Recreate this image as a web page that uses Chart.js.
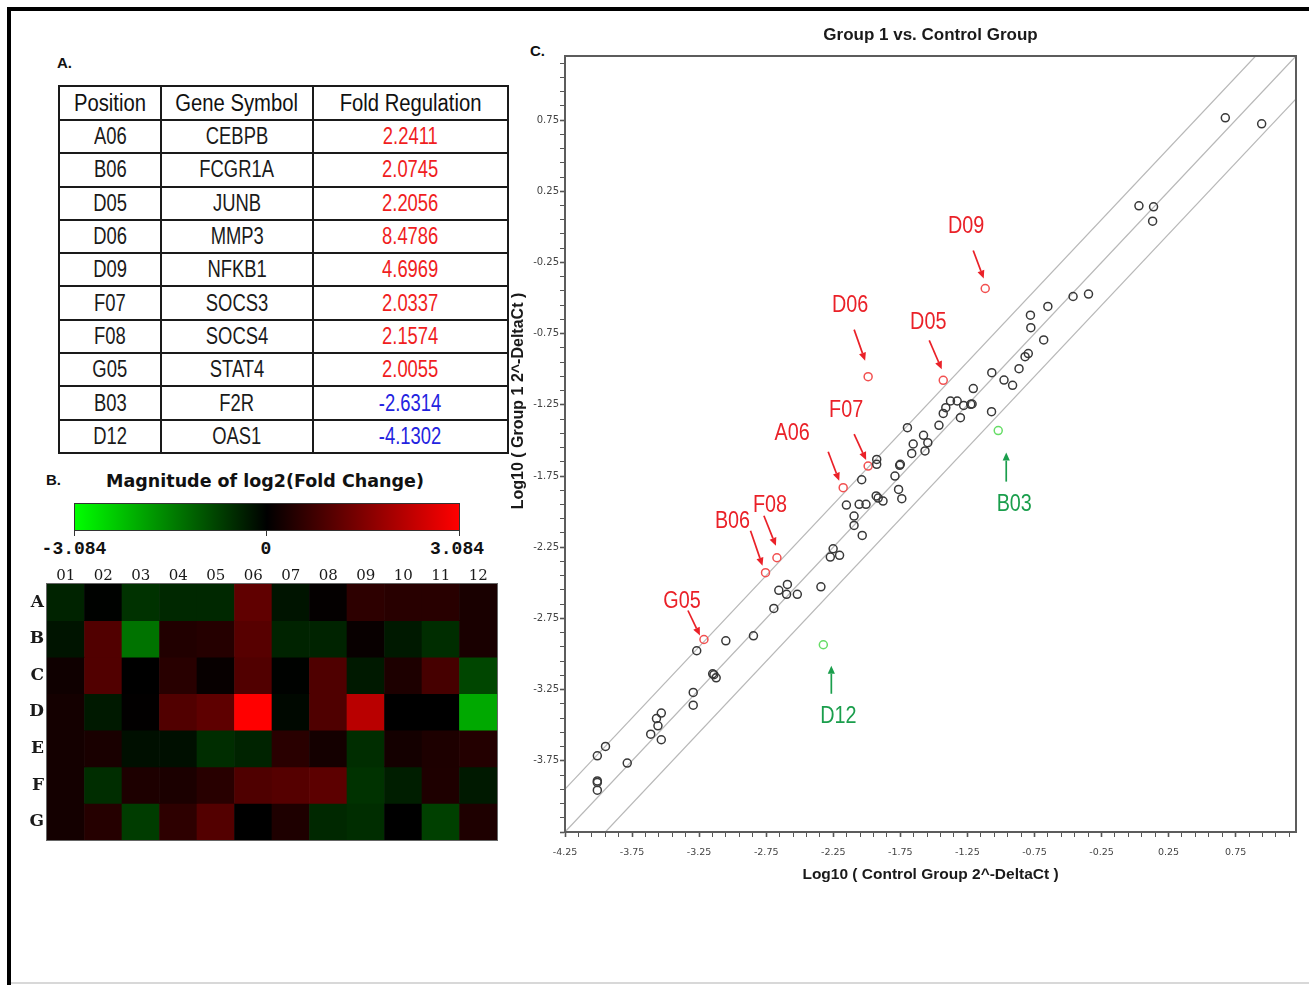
<!DOCTYPE html>
<html>
<head>
<meta charset="utf-8">
<title>Group 1 vs. Control Group</title>
<script src="https://cdn.jsdelivr.net/npm/chart.js@4.4.1/dist/chart.umd.min.js"></script>
<style>
  html, body { margin:0; padding:0; background:#fff; }
  body { width:1309px; height:985px; position:relative; overflow:hidden; font-family:'Liberation Sans', Arial, sans-serif; }
  .frame { position:absolute; background:#000; }
  .panel { position:absolute; font-weight:bold; font-size:15px; color:#111; line-height:1; font-family:'Liberation Sans', Arial, sans-serif; }
  #geneTable { position:absolute; left:58px; top:85px; width:449px; border-collapse:collapse; table-layout:fixed; }
  #geneTable td, #geneTable th { border:2px solid #1a1a1a; padding:0; text-align:center; overflow:hidden; white-space:nowrap; line-height:1; }
  #geneTable th { height:32px; font-weight:normal; font-size:23px; color:#111; }
  #geneTable td { height:31.3px; font-size:23px; color:#1a1a1a; }
  .sq { display:inline-block; transform:scaleX(0.8); transform-origin:center; }
  #geneTable th .sq { transform:scaleX(0.88); }
  .up { color:#f01e1e; }
  .down { color:#2323e0; }
  #heatTitle { position:absolute; left:15px; width:500px; top:470px; text-align:center; font:bold 17.5px 'DejaVu Sans', sans-serif; color:#111; line-height:22px; }
  #cbar { position:absolute; left:74px; top:503px; width:386px; height:28px; border:1px solid #333; box-sizing:border-box;
          background:linear-gradient(to right, #00ff00 0%, #000000 50%, #ff0000 100%); }
  .cbtick { position:absolute; top:531px; width:1px; height:5px; background:#333; }
  .cblab { position:absolute; top:539px; width:100px; text-align:center; font:bold 18px 'Liberation Mono', 'DejaVu Sans Mono', monospace; color:#111; line-height:20px; }
  canvas { position:absolute; }
</style>
</head>
<body>
<div class="frame" style="left:7px;top:7px;width:1302px;height:4px;"></div>
<div class="frame" style="left:7px;top:7px;width:4px;height:978px;"></div>
<div class="frame" style="left:11px;top:982px;width:1298px;height:2px;background:#d8d8d8;"></div>

<div class="panel" style="left:57px;top:55px;">A.</div>
<div class="panel" style="left:46px;top:472px;">B.</div>
<div class="panel" style="left:530px;top:43px;">C.</div>

<table id="geneTable"><colgroup><col style="width:102px"><col style="width:152px"><col style="width:195px"></colgroup><thead></thead><tbody></tbody></table>

<div id="heatTitle">Magnitude of log2(Fold Change)</div>
<div id="cbar"></div>
<div class="cbtick" style="left:74px"></div>
<div class="cbtick" style="left:266px"></div>
<div class="cbtick" style="left:459px"></div>
<div class="cblab" style="left:24px">-3.084</div>
<div class="cblab" style="left:216px">0</div>
<div class="cblab" style="left:407px">3.084</div>

<canvas id="heat" width="480" height="290" style="left:20px;top:555px;"></canvas>
<canvas id="scatter" width="809" height="880" style="left:500px;top:15px;"></canvas>

<script>
// ---------------- Panel A: table ----------------
const tableHeaders   = ['Position', 'Gene Symbol', 'Fold Regulation'];
const tablePositions = ['A06', 'B06', 'D05', 'D06', 'D09', 'F07', 'F08', 'G05', 'B03', 'D12'];
const tableGenes     = ['CEBPB', 'FCGR1A', 'JUNB', 'MMP3', 'NFKB1', 'SOCS3', 'SOCS4', 'STAT4', 'F2R', 'OAS1'];
const tableFold      = ['2.2411', '2.0745', '2.2056', '8.4786', '4.6969', '2.0337', '2.1574', '2.0055', '-2.6314', '-4.1302'];

// ---------------- Panel B: heat map (log2 fold change) ----------------
const heatCols      = ['01', '02', '03', '04', '05', '06', '07', '08', '09', '10', '11', '12'];
const heatRowLabels = ['A', 'B', 'C', 'D', 'E', 'F', 'G'];
const heatScaleMax  = 3.084;
const rowA = [-0.42, -0.02, -0.60, -0.48, -0.48, 1.164, -0.24, 0.05, 0.54, 0.48, 0.48, 0.30];
const rowB = [-0.24, 0.98, -1.396, 0.40, 0.45, 1.053, -0.42, -0.42, 0.10, -0.30, -0.55, 0.30];
const rowC = [0.18, 0.98, 0.00, 0.48, 0.08, 0.98, -0.02, 0.95, -0.30, 0.35, 0.85, -0.85];
const rowD = [0.24, -0.30, 0.02, 0.98, 1.141, 3.084, -0.10, 0.95, 2.232, 0.00, 0.00, -2.046];
const rowE = [0.24, 0.30, -0.18, -0.18, -0.55, -0.42, 0.50, 0.24, -0.55, 0.24, 0.35, 0.42];
const rowF = [0.24, -0.55, 0.35, 0.33, 0.48, 0.95, 1.024, 1.109, -0.60, -0.36, 0.36, -0.30];
const rowG = [0.24, 0.45, -0.72, 0.55, 1.004, 0.00, 0.36, -0.48, -0.55, 0.00, -0.78, 0.36];
const heatRows = [rowA, rowB, rowC, rowD, rowE, rowF, rowG];

// ---------------- Panel C: scatter ----------------
const scatterTitle = 'Group 1 vs. Control Group';
const xAxisTitle = 'Log10 ( Control Group 2^-DeltaCt )';
const yAxisTitle = 'Log10 ( Group 1 2^-DeltaCt )';
const xTickLabels = ['-4.25', '-3.75', '-3.25', '-2.75', '-2.25', '-1.75', '-1.25', '-0.75', '-0.25', '0.25', '0.75'];
const yTickLabels = ['-3.75', '-3.25', '-2.75', '-2.25', '-1.75', '-1.25', '-0.75', '-0.25', '0.25', '0.75'];
const axisMin = -4.25;
const axisMax = 1.2;
const foldBoundary = 2;

const controlLog = [0.673, 0.944, 0.029, 0.138, 0.131, -0.347, -0.462, -0.650, -0.780,
  -0.777, -0.681, -0.796, -0.820, -0.865, -0.977, -0.913, -1.068, -1.070, -1.206, -1.225, -1.215,
  -1.278, -1.326, -1.376, -1.411, -1.430, -1.302, -1.462, -1.697, -1.577, -1.545, -1.654, -1.665,
  -1.566, -1.926, -1.926, -1.755, -1.750, -1.790, -1.763, -1.739, -2.038, -1.930, -1.915, -1.879,
  -2.152, -2.057, -2.006, -2.095, -2.095, -2.034, -2.251, -2.272, -2.203, -2.342, -2.656, -2.592,
  -2.598, -2.518, -2.693, -2.845, -3.051, -3.268, -3.149, -3.140, -3.123, -3.294, -3.294, -3.532,
  -3.568, -3.557, -3.611, -3.532, -3.948, -4.009, -3.786, -4.009, -4.009, -4.009];
const group1Log = [0.766, 0.724, 0.148, 0.141, 0.040, -0.472, -0.489, -0.559, -0.620,
  -0.708, -0.794, -0.890, -0.912, -0.996, -1.076, -1.113, -1.024, -1.298, -1.136, -1.246, -1.244,
  -1.254, -1.223, -1.223, -1.270, -1.310, -1.340, -1.394, -1.410, -1.464, -1.516, -1.525, -1.591,
  -1.574, -1.633, -1.668, -1.675, -1.668, -1.750, -1.844, -1.909, -1.776, -1.890, -1.905, -1.926,
  -1.954, -1.949, -1.949, -2.031, -2.097, -2.167, -2.261, -2.319, -2.307, -2.528, -2.553, -2.511,
  -2.581, -2.581, -2.680, -2.872, -2.907, -2.977, -3.139, -3.145, -3.167, -3.270, -3.359, -3.415,
  -3.453, -3.504, -3.563, -3.602, -3.649, -3.715, -3.766, -3.891, -3.902, -3.956];

const upGenes    = ['A06', 'B06', 'D05', 'D06', 'D09', 'F07', 'F08', 'G05'];
const upControl  = [-2.176, -2.755, -1.430, -1.990, -1.117, -1.990, -2.670, -3.214];
const upGroup1   = [-1.832, -2.429, -1.078, -1.052, -0.433, -1.680, -2.324, -2.898];
const downGenes   = ['B03', 'D12'];
const downControl = [-1.020, -2.324];
const downGroup1  = [-1.431, -2.935];

// ---------- styling (positions of call-out texts/arrows, pixels relative to the point) ----------
const callout = {
  D09: { text: [-19, -62], from: [-12, -38], to: [-1.5, -10] },
  D06: { text: [-18, -71], from: [-14, -47], to: [-3, -16] },
  D05: { text: [-15, -58], from: [-14, -40], to: [-1.5, -11] },
  F07: { text: [-22, -55], from: [-14, -32], to: [-2, -6] },
  A06: { text: [-51, -54], from: [-15, -36], to: [-4, -7] },
  F08: { text: [-7, -52], from: [-13, -42], to: [-1, -12] },
  B06: { text: [-33, -51], from: [-15, -42], to: [-3, -7] },
  G05: { text: [-22, -38], from: [-16, -29], to: [-4, -4] },
  B03: { text: [16, 74], from: [8, 51], to: [8, 22] },
  D12: { text: [15, 72], from: [8, 49], to: [8, 21] }
};
const upColor = '#ea2128', upPoint = '#f25050';
const downColor = '#1a9e4c', downPoint = '#66dd66';

// ================= Build table =================
(function () {
  const t = document.getElementById('geneTable');
  const thead = t.querySelector('thead');
  const tbody = t.querySelector('tbody');
  const hr = document.createElement('tr');
  tableHeaders.forEach(h => {
    const th = document.createElement('th');
    th.innerHTML = '<span class="sq">' + h + '</span>';
    hr.appendChild(th);
  });
  thead.appendChild(hr);
  tablePositions.forEach((p, i) => {
    const tr = document.createElement('tr');
    const cls = parseFloat(tableFold[i]) >= 0 ? 'up' : 'down';
    [p, tableGenes[i], tableFold[i]].forEach((v, j) => {
      const td = document.createElement('td');
      const span = document.createElement('span');
      span.className = 'sq' + (j === 2 ? ' ' + cls : '');
      span.textContent = v;
      td.appendChild(span);
      tr.appendChild(td);
    });
    tbody.appendChild(tr);
  });
})();

// ================= Heat map =================
function log2Color(v) {
  const f = Math.min(Math.abs(v) / heatScaleMax, 1);
  const c = Math.round(255 * f);
  return v >= 0 ? 'rgb(' + c + ',0,0)' : 'rgb(0,' + c + ',0)';
}
const heatBorder = {
  id: 'heatBorder',
  afterDatasetsDraw(chart) {
    const { ctx, chartArea: a } = chart;
    ctx.save();
    ctx.strokeStyle = '#666';
    ctx.lineWidth = 1;
    ctx.strokeRect(a.left - 0.5, a.top - 0.5, a.right - a.left + 1, a.bottom - a.top + 1);
    ctx.restore();
  }
};
new Chart(document.getElementById('heat'), {
  type: 'bar',
  data: {
    labels: heatCols,
    datasets: heatRows.map((vals, r) => ({
      label: heatRowLabels[r],
      data: vals.map(() => [r, r + 1]),
      backgroundColor: vals.map(log2Color),
      borderWidth: 0,
      barPercentage: 1,
      categoryPercentage: 1
    }))
  },
  options: {
    responsive: false,
    animation: false,
    events: [],
    layout: { padding: { left: 0, right: 3, top: 0, bottom: 5 } },
    plugins: { legend: { display: false }, tooltip: { enabled: false } },
    scales: {
      x: {
        position: 'top',
        stacked: true,
        grid: { display: false, drawTicks: false },
        border: { display: false },
        ticks: { color: '#1a1a1a', font: { family: 'DejaVu Serif', size: 15 }, padding: -1.5, maxRotation: 0 },
        afterFit(s) { s.height = 29; s.paddingLeft = 0; s.paddingRight = 0; }
      },
      y: {
        type: 'linear',
        min: 0,
        max: heatRowLabels.length,
        reverse: true,
        grid: { display: false, drawTicks: false },
        border: { display: false },
        afterBuildTicks(s) { s.ticks = heatRowLabels.map((l, i) => ({ value: i + 0.5 })); },
        ticks: {
          callback: (v, i) => heatRowLabels[i],
          color: '#1a1a1a',
          font: { family: 'DejaVu Serif', size: 17, weight: 'bold' },
          padding: 3
        },
        afterFit(s) { s.width = 27; s.paddingTop = 0; s.paddingBottom = 0; }
      }
    }
  },
  plugins: [heatBorder]
});

// ================= Scatter =================
const tickStep = 0.05;
function tickIndex(v) { return Math.round((v - axisMin) / tickStep); }
const d = Math.log10(foldBoundary);
const centerLine = [{ x: axisMin, y: axisMin }, { x: axisMax, y: axisMax }];
const upperLine = [{ x: axisMin, y: axisMin + d }, { x: axisMax - d, y: axisMax }];
const lowerLine = [{ x: axisMin + d, y: axisMin }, { x: axisMax, y: axisMax - d }];

function drawCallout(ctx, px, py, off, text, color) {
  const x1 = px + off.from[0], y1 = py + off.from[1];
  const x2 = px + off.to[0], y2 = py + off.to[1];
  const ang = Math.atan2(y2 - y1, x2 - x1);
  const head = 8, hw = 3.6;
  const bx = x2 - head * Math.cos(ang), by = y2 - head * Math.sin(ang);
  ctx.save();
  ctx.strokeStyle = color; ctx.fillStyle = color; ctx.lineWidth = 1.7;
  ctx.beginPath(); ctx.moveTo(x1, y1); ctx.lineTo(bx, by); ctx.stroke();
  ctx.beginPath();
  ctx.moveTo(x2, y2);
  ctx.lineTo(bx + hw * Math.sin(ang), by - hw * Math.cos(ang));
  ctx.lineTo(bx - hw * Math.sin(ang), by + hw * Math.cos(ang));
  ctx.closePath(); ctx.fill();
  ctx.translate(px + off.text[0], py + off.text[1]);
  ctx.scale(0.86, 1);
  ctx.font = '23px "Liberation Sans", Arial, sans-serif';
  ctx.textAlign = 'center'; ctx.textBaseline = 'middle';
  ctx.fillText(text, 0, 0);
  ctx.restore();
}

const scatterDecor = {
  id: 'scatterDecor',
  afterDraw(chart) {
    const { ctx, chartArea: a, scales: { x, y } } = chart;
    ctx.save();
    ctx.strokeStyle = '#5c5c5c';
    ctx.lineWidth = 2;
    ctx.strokeRect(a.left, a.top, a.right - a.left, a.bottom - a.top);
    ctx.translate(19, 386);
    ctx.rotate(-Math.PI / 2);
    ctx.font = 'bold 16px "Liberation Sans", Arial, sans-serif';
    ctx.fillStyle = '#1a1a1a';
    ctx.textAlign = 'center'; ctx.textBaseline = 'middle';
    ctx.fillText(yAxisTitle, 0, 0);
    ctx.restore();
    upGenes.forEach((g, i) => {
      drawCallout(ctx, x.getPixelForValue(upControl[i]), y.getPixelForValue(upGroup1[i]), callout[g], g, upColor);
    });
    downGenes.forEach((g, i) => {
      drawCallout(ctx, x.getPixelForValue(downControl[i]), y.getPixelForValue(downGroup1[i]), callout[g], g, downColor);
    });
  }
};

function axisCfg(labels, isX) {
  return {
    type: 'linear',
    min: axisMin,
    max: axisMax,
    grid: {
      display: true,
      drawOnChartArea: false,
      drawTicks: true,
      tickLength: 5,
      tickColor: (c) => (tickIndex(c.tick.value) % 2 === 0 ? '#555' : 'rgba(0,0,0,0)'),
      tickWidth: (c) => (tickIndex(c.tick.value) % 10 === 0 ? 1.6 : 1)
    },
    border: { display: true, color: '#5c5c5c', width: 2 },
    ticks: {
      stepSize: tickStep,
      autoSkip: false,
      maxRotation: 0,
      minRotation: 0,
      color: '#444',
      font: { family: 'DejaVu Sans', size: isX ? 9.5 : 10 },
      padding: isX ? 10 : 1,
      callback: (v) => {
        const s = (Math.round(v * 100) / 100).toFixed(2);
        return labels.indexOf(s) >= 0 ? s : '';
      }
    }
  };
}

const xCfg = axisCfg(xTickLabels, true);
xCfg.title = { display: true, text: xAxisTitle, color: '#1a1a1a', font: { family: 'Liberation Sans', size: 15.5, weight: 'bold' }, padding: { top: 0, bottom: 11 } };
xCfg.afterFit = (s) => { s.height = 63; };
const yCfg = axisCfg(yTickLabels, false);
yCfg.afterFit = (s) => { s.width = 65; };

const pointStyleBase = { pointStyle: 'circle', pointRadius: 4, pointBorderWidth: 1.5, pointBackgroundColor: 'rgba(0,0,0,0)', showLine: false };

new Chart(document.getElementById('scatter'), {
  type: 'scatter',
  data: {
    datasets: [
      Object.assign({ label: 'Genes', data: controlLog.map((v, i) => ({ x: v, y: group1Log[i] })), pointBorderColor: '#383838', order: 0 }, pointStyleBase),
      Object.assign({ label: 'Up-regulated', data: upControl.map((v, i) => ({ x: v, y: upGroup1[i] })), pointBorderColor: upPoint, order: 0 }, pointStyleBase),
      Object.assign({ label: 'Down-regulated', data: downControl.map((v, i) => ({ x: v, y: downGroup1[i] })), pointBorderColor: downPoint, order: 0 }, pointStyleBase),
      { type: 'line', label: 'y = x', data: centerLine, borderColor: '#b8b8b8', borderWidth: 1.2, pointRadius: 0, order: 1 },
      { type: 'line', label: '+2 fold', data: upperLine, borderColor: '#b8b8b8', borderWidth: 1.2, pointRadius: 0, order: 1 },
      { type: 'line', label: '-2 fold', data: lowerLine, borderColor: '#b8b8b8', borderWidth: 1.2, pointRadius: 0, order: 1 }
    ]
  },
  options: {
    responsive: false,
    animation: false,
    events: [],
    layout: { padding: { left: 0, right: 13, top: 0, bottom: 0 } },
    plugins: {
      legend: { display: false },
      tooltip: { enabled: false },
      title: {
        display: true,
        fullSize: false,
        text: scatterTitle,
        color: '#1a1a1a',
        font: { family: 'Liberation Sans', size: 17, weight: 'bold' },
        padding: { top: 10, bottom: 10.6 }
      }
    },
    scales: { x: xCfg, y: yCfg }
  },
  plugins: [scatterDecor]
});
</script>
</body>
</html>
